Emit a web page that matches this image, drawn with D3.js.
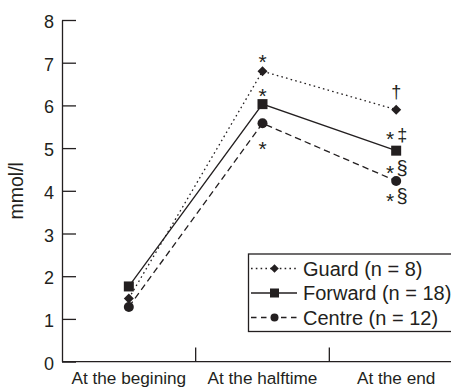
<!DOCTYPE html>
<html>
<head>
<meta charset="utf-8">
<script src="https://cdn.jsdelivr.net/npm/d3@7"></script>
<style>
  html, body { margin: 0; padding: 0; background: #fff; }
  svg { display: block; }
  text { font-family: "Liberation Sans", Arial, sans-serif; fill: #231f20; }
</style>
</head>
<body>
<svg id="chart" width="451" height="387"></svg>
<script>
// ---- data ----
const categories = ["At the begining", "At the halftime", "At the end"];
const seriesNames = ["Guard (n = 8)", "Forward (n = 18)", "Centre (n = 12)"];
const guardValues = [1.48, 6.8, 5.9];
const forwardValues = [1.76, 6.03, 4.94];
const centreValues = [1.28, 5.58, 4.23];
const yTicks = [0, 1, 2, 3, 4, 5, 6, 7, 8];
const yLabel = "mmol/l";
// annotations: [category index, series index, asterisk?, symbol, vertical offset in px]
const annotations = [
  [1, 0, "*", "", -14],
  [1, 1, "*", "", -13],
  [1, 2, "*", "", 21],
  [2, 0, "", "\u2020", -19],
  [2, 1, "*", "\u2021", -17],
  [2, 1, "*", "\u00a7", 17],
  [2, 2, "*", "\u00a7", 15]
];

const seriesValues = [guardValues, forwardValues, centreValues];
const markers = ["diamond", "square", "circle"];
const dashes = ["1.6,3.2", null, "6.5,4"];

const svg = d3.select("#chart");
const ink = "#231f20";

const x = d3.scaleBand().domain(categories).range([62, 463]).padding(0);
const y = d3.scaleLinear().domain([0, 8]).range([361.6, 20]);
const cx = c => x(c) + x.bandwidth() / 2;

// y axis
const yAxis = d3.axisLeft(y).tickValues(yTicks).tickSizeInner(-14).tickSizeOuter(0).tickPadding(8)
  .tickFormat(d3.format("d"));
const gy = svg.append("g").attr("transform", "translate(62,0)").call(yAxis);
gy.select(".domain").attr("stroke", ink).attr("stroke-width", 1.3);
gy.selectAll(".tick line").attr("stroke", ink).attr("stroke-width", 1.3);
gy.selectAll(".tick text").attr("font-size", 18).attr("fill", ink)
  .attr("font-family", "Liberation Sans, Arial, sans-serif").attr("dy", "0.42em");

// x axis
svg.append("line").attr("x1", 62).attr("x2", 451).attr("y1", y(0)).attr("y2", y(0))
  .attr("stroke", ink).attr("stroke-width", 1.3);
svg.selectAll(".xtick").data(categories.slice(1)).join("line")
  .attr("x1", d => x(d)).attr("x2", d => x(d))
  .attr("y1", y(0)).attr("y2", y(0) - 14)
  .attr("stroke", ink).attr("stroke-width", 1.3);
svg.selectAll(".xlab").data(categories).join("text")
  .attr("x", d => cx(d)).attr("y", 384)
  .attr("text-anchor", "middle").attr("font-size", 17.2)
  .text(d => d);

// y label
svg.append("text").attr("transform", `translate(23,${y(4)}) rotate(-90)`)
  .attr("text-anchor", "middle").attr("font-size", 19.5).text(yLabel);

// marker drawing
function drawMarker(g, type, px, py, s) {
  if (type === "diamond") {
    g.append("path").attr("d", `M${px},${py - s}L${px + s},${py}L${px},${py + s}L${px - s},${py}Z`).attr("fill", ink);
  } else if (type === "square") {
    g.append("rect").attr("x", px - s).attr("y", py - s).attr("width", 2 * s).attr("height", 2 * s).attr("fill", ink);
  } else {
    g.append("circle").attr("cx", px).attr("cy", py).attr("r", s).attr("fill", ink);
  }
}

// lines and markers
const line = d3.line().x((d, i) => cx(categories[i])).y(d => y(d));
seriesValues.forEach((vals, si) => {
  svg.append("path").attr("d", line(vals)).attr("fill", "none")
    .attr("stroke", ink).attr("stroke-width", 1.3)
    .attr("stroke-dasharray", dashes[si]);
});
const mg = svg.append("g");
const markerSize = [5, 5, 5];
seriesValues.forEach((vals, si) => {
  vals.forEach((v, i) => drawMarker(mg, markers[si], cx(categories[i]), y(v), markerSize[si]));
});

// annotations
annotations.forEach(([ci, si, ast, sym, dy]) => {
  const px = cx(categories[ci]);
  const py = y(seriesValues[si][ci]) + dy;
  if (ast) {
    const ax = sym ? px - 6 : px;
    svg.append("text").attr("x", ax).attr("y", py + 12).attr("text-anchor", "middle")
      .attr("font-size", 21).text(ast);
  }
  if (sym) {
    const sx = ast ? px + 6 : px;
    svg.append("text").attr("x", sx).attr("y", py + 7).attr("text-anchor", "middle")
      .attr("font-size", sym === "\u00a7" ? 20 : 18).text(sym);
  }
});

// legend
const lg = svg.append("g");
lg.append("rect").attr("x", 248.5).attr("y", 254).attr("width", 260).attr("height", 77.5)
  .attr("fill", "#fff").attr("stroke", ink).attr("stroke-width", 1.3);
const legendY = d3.scalePoint().domain(seriesNames).range([268.5, 317.5]);
const legendMarker = [4.3, 4.5, 4];
seriesNames.forEach((name, si) => {
  const ly = legendY(name);
  lg.append("line").attr("x1", 251).attr("x2", 297).attr("y1", ly).attr("y2", ly)
    .attr("stroke", ink).attr("stroke-width", 1.3)
    .attr("stroke-dasharray", dashes[si] ? (si === 0 ? "1.6,3.2" : "5.5,4.5") : null);
  drawMarker(lg, markers[si], 274.5, ly, legendMarker[si]);
  lg.append("text").attr("x", 303).attr("y", ly + 7).attr("font-size", 20).text(name);
});
</script>
</body>
</html>
